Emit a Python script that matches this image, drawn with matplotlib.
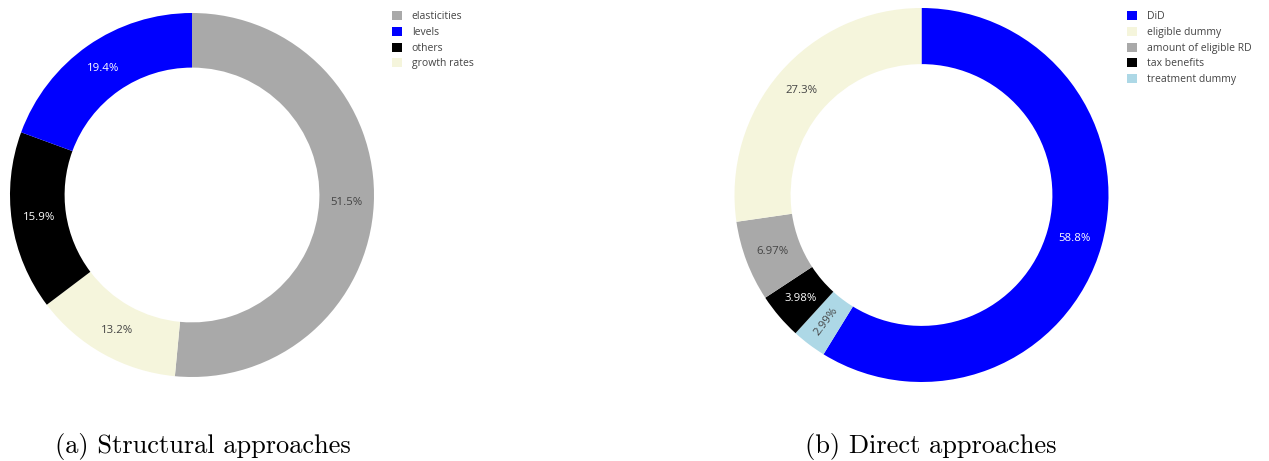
import numpy as np
import matplotlib
matplotlib.use("Agg")
import matplotlib.pyplot as plt
from matplotlib.patches import Patch

# Structural approaches (left)
struct_labels = ["elasticities", "growth rates", "others", "levels"]
struct_values = [51.5, 13.2, 15.9, 19.4]
struct_colors = ["#a9a9a9", "#f5f5dc", "#000000", "#0000ff"]
struct_legend_order = ["elasticities", "levels", "others", "growth rates"]

# Direct approaches (right)
direct_labels = ["DiD", "treatment dummy", "tax benefits", "amount of eligible RD", "eligible dummy"]
direct_values = [58.8, 2.99, 3.98, 6.97, 27.3]
direct_colors = ["#0000ff", "#add8e6", "#000000", "#a9a9a9", "#f5f5dc"]
direct_legend_order = ["DiD", "eligible dummy", "amount of eligible RD", "tax benefits", "treatment dummy"]

captions = ["(a) Structural approaches", "(b) Direct approaches"]

W, H = 1269, 461
fig = plt.figure(figsize=(W / 100, H / 100), dpi=100)

dark = {"#0000ff", "#000000"}


def donut(cx, cy, r, labels, values, colors, legend_order, legend_xy):
    ax = fig.add_axes([(cx - r) / W, 1 - (cy + r) / H, 2 * r / W, 2 * r / H])
    wedges, texts, autotexts = ax.pie(
        values, colors=colors, startangle=90, counterclock=False,
        autopct=lambda p: f"{p:.3g}%", pctdistance=0.85,
        wedgeprops=dict(width=0.3, linewidth=0),
        textprops=dict(fontsize=8.2, family="Open Sans"))
    ax.set_xlim(-1, 1)
    ax.set_ylim(-1, 1)
    ax.set_aspect("equal")
    for w, t, c, v in zip(wedges, autotexts, colors, values):
        t.set_color("white" if c in dark else "#444444")
        if v < 3.5:
            mid = (w.theta1 + w.theta2) / 2
            t.set_rotation(mid + 180 if np.cos(np.radians(mid)) < 0 else mid)
    handles = [Patch(facecolor=colors[labels.index(l)], edgecolor="none") for l in legend_order]
    fig.legend(handles, legend_order, loc="upper left",
               bbox_to_anchor=(legend_xy[0] / W, 1 - legend_xy[1] / H),
               frameon=False, handlelength=0.95, handleheight=0.95,
               handletextpad=0.95, labelspacing=0.45, borderpad=0, borderaxespad=0,
               labelcolor="#444444", prop=dict(family="Open Sans", size=7.5))


donut(192, 195, 182, struct_labels, struct_values, struct_colors, struct_legend_order, (392, 11))
donut(921.5, 195, 187, direct_labels, direct_values, direct_colors, direct_legend_order, (1127, 11))

fig.text(203 / W, 1 - 446 / H, captions[0], ha="center", va="center", family="cmr10", fontsize=19)
fig.text(931 / W, 1 - 446 / H, captions[1], ha="center", va="center", family="cmr10", fontsize=19)

fig.savefig("out.png", dpi=100)
